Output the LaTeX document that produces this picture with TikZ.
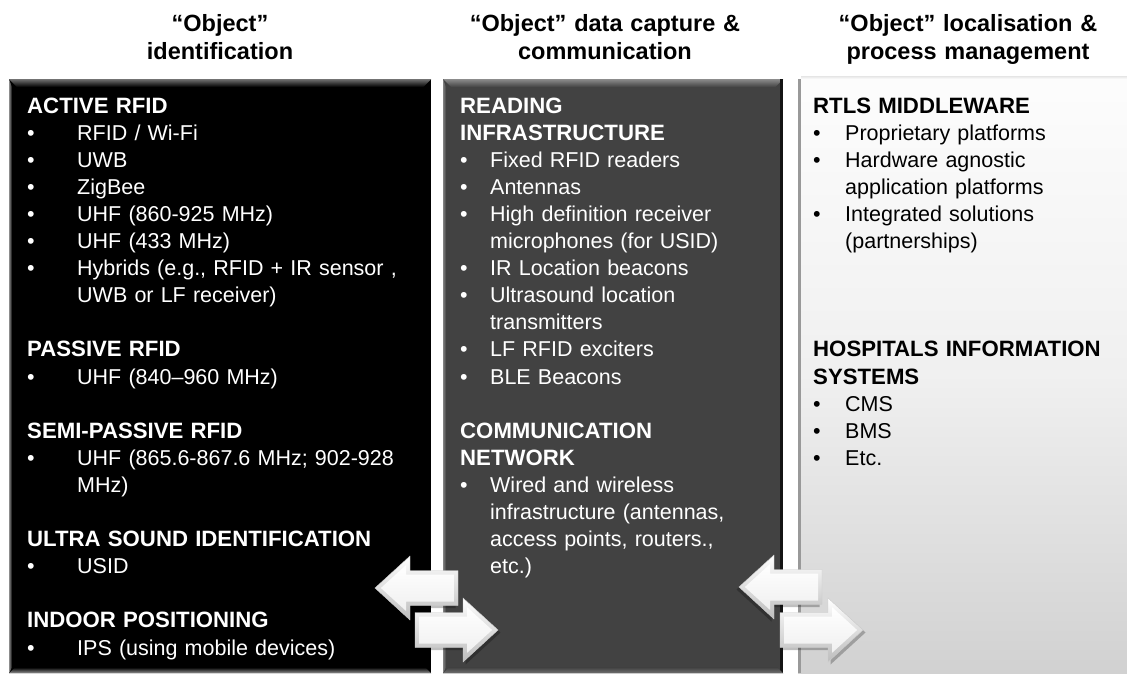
\documentclass[tikz,border=0pt]{standalone}
\usepackage{fontspec}
\setmainfont{Liberation Sans}
\usetikzlibrary{calc}

% bullets, hanging indents and headings for the three panels
\newcommand\bA{\makebox[50pt][l]{•}}
\newcommand\iA{\hspace*{50pt}}
\newcommand\bB{\makebox[30pt][l]{•}}
\newcommand\iB{\hspace*{30pt}}
\newcommand\bC{\makebox[32pt][l]{•}}
\newcommand\iC{\hspace*{32pt}}
\newcommand\hd[1]{{\fontsize{22.2}{27.1}\selectfont\bfseries #1}}

\tikzset{
  coltitle/.style={anchor=base, inner sep=0pt, text width=320pt, align=center,
    font=\bfseries\fontsize{23.5}{28.5}\selectfont},
  paneltext/.style={anchor=base west, inner sep=0pt, text width=#1, align=left,
    font=\fontsize{21.5}{27.1}\selectfont},
  paneltext/.default=320pt,
  panel/.style={anchor=north west, inner sep=0pt, minimum height=594pt},
  pics/fatarrow/.style={code={
    % drop shadow
    \begin{scope}[shift={(2.5,2.5)}]
      \fill[black,opacity=.25] (0,-17.5) -- (48,-17.5) -- (48,-32) -- (83,0)
        -- (48,32) -- (48,17.5) -- (0,17.5) -- cycle;
    \end{scope}
    % bevelled rim
    \path[top color=white, bottom color=black!26, draw=black!20, line width=.4pt]
      (0,-17.5) -- (48,-17.5) -- (48,-32) -- (83,0)
      -- (48,32) -- (48,17.5) -- (0,17.5) -- cycle;
    % front face
    \path[top color=white, bottom color=black!6]
      (4,-13.5) -- (52,-13.5) -- (52,-22.9) -- (77.1,0)
      -- (52,22.9) -- (52,13.5) -- (4,13.5) -- cycle;
  }}
}

\begin{document}
\begin{tikzpicture}[x=1pt,y=-1pt]
\useasboundingbox[fill=white] (0,0) rectangle (1127,673);

% column titles
\node[coltitle] (t1) at (220,31) {“Object”\\identification};
\node[coltitle] (t2) at (605,31) {“Object” data capture \&\\communication};
\node[coltitle] (t3) at (968,31) {“Object” localisation \&\\process management};

% identification panel
\node[panel, minimum width=422pt, fill=black] (idp) at (9,79) {};
\shade[top color=black!55, bottom color=black]
  (idp.north west) -- (idp.north east) -- ([shift={(-8,8)}]idp.north east)
  -- ([shift={(8,8)}]idp.north west) -- cycle;
\shade[left color=black!45, right color=black]
  (idp.north west) -- ([shift={(3,8)}]idp.north west)
  -- ([shift={(3,-6)}]idp.south west) -- (idp.south west) -- cycle;
\shade[top color=black, bottom color=black!40]
  ([shift={(6,-6)}]idp.south west) -- ([shift={(-6,-6)}]idp.south east)
  -- (idp.south east) -- (idp.south west) -- cycle;

% data capture panel
\node[panel, minimum width=340pt, fill=black!74] (cap) at (443,79) {};
\shade[top color=black!45, bottom color=black!74]
  (cap.north west) -- (cap.north east) -- ([shift={(-8,8)}]cap.north east)
  -- ([shift={(8,8)}]cap.north west) -- cycle;
\shade[left color=black!50, right color=black!74]
  (cap.north west) -- ([shift={(3,8)}]cap.north west)
  -- ([shift={(3,-6)}]cap.south west) -- (cap.south west) -- cycle;
\fill[black!92] ([xshift=-3]cap.north east) rectangle (cap.south east);
\shade[top color=black!74, bottom color=black!55]
  ([shift={(6,-6)}]cap.south west) -- ([shift={(-6,-6)}]cap.south east)
  -- (cap.south east) -- (cap.south west) -- cycle;

% localisation panel
\node[panel, minimum width=329pt, top color=black!1, bottom color=black!18,
  middle color=black!6] (mgp) at (798,79) {};
\fill[black!40] (mgp.north west) rectangle ([xshift=3]mgp.south west);
\shade[top color=black!10, bottom color=black!1]
  ([xshift=3]mgp.north west) rectangle ([yshift=3]mgp.north east);

% panel texts
\node[paneltext=410pt, text=white] (idtxt) at (27,113) {%
\hd{ACTIVE RFID}\\
\bA RFID / Wi-Fi\\
\bA UWB\\
\bA ZigBee\\
\bA UHF (860-925 MHz)\\
\bA UHF (433 MHz)\\
\bA Hybrids (e.g., RFID + IR sensor ,\\
\iA UWB or LF receiver)\\[27.1pt]
\hd{PASSIVE RFID}\\
\bA UHF (840–960 MHz)\\[27.1pt]
\hd{SEMI-PASSIVE RFID}\\
\bA UHF (865.6-867.6 MHz; 902-928\\
\iA MHz)\\[27.1pt]
\hd{ULTRA SOUND IDENTIFICATION}\\
\bA USID\\[27.1pt]
\hd{INDOOR POSITIONING}\\
\bA IPS (using mobile devices)};

\node[paneltext=320pt, text=white] (captxt) at (460,113) {%
\hd{READING}\\
\hd{INFRASTRUCTURE}\\
\bB Fixed RFID readers\\
\bB Antennas\\
\bB High definition receiver\\
\iB microphones (for USID)\\
\bB IR Location beacons\\
\bB Ultrasound location\\
\iB transmitters\\
\bB LF RFID exciters\\
\bB BLE Beacons\\[27.1pt]
\hd{COMMUNICATION}\\
\hd{NETWORK}\\
\bB Wired and wireless\\
\iB infrastructure (antennas,\\
\iB access points, routers.,\\
\iB etc.)};

\node[paneltext=310pt, text=black] (mgtxt) at (813,113) {%
\hd{RTLS MIDDLEWARE}\\
\bC Proprietary platforms\\
\bC Hardware agnostic\\
\iC application platforms\\
\bC Integrated solutions\\
\iC (partnerships)\\[81.3pt]
\hd{HOSPITALS INFORMATION}\\
\hd{SYSTEMS}\\
\bC CMS\\
\bC BMS\\
\bC Etc.};

% exchange arrows between the panels
\pic[xscale=-1] (back1) at (458,588) {fatarrow};
\pic (fwd1) at (415,630) {fatarrow};
\pic[xscale=-1] (back2) at (822,587) {fatarrow};
\pic (fwd2) at (780,630) {fatarrow};
\end{tikzpicture}
\end{document}
